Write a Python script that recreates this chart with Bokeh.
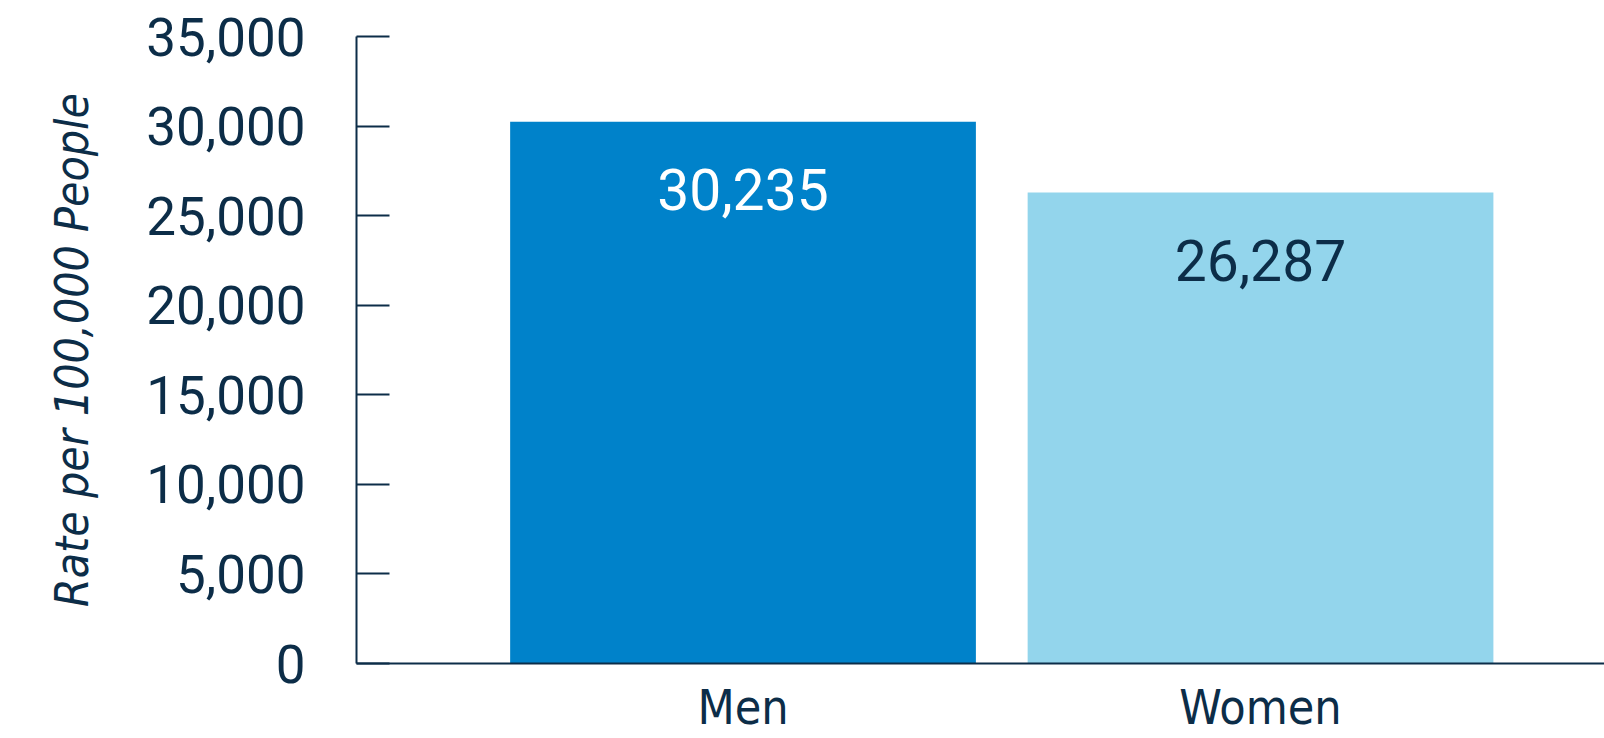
from bokeh.plotting import figure
from bokeh.models import FixedTicker, NumeralTickFormatter, ColumnDataSource, Range1d
from bokeh.core.properties import value
from bokeh.embed import file_html
from bokeh.resources import INLINE

categories = ["Men", "Women"]
rates = [30235, 26287]
bar_colors = ["#0082CA", "#93D5EC"]
label_colors = ["#FFFFFF", "#0C2D48"]
y_ticks = [0, 5000, 10000, 15000, 20000, 25000, 30000, 35000]

NAVY = "#0C2D48"
xs = list(range(1, len(categories) + 1))

src = ColumnDataSource(dict(
    x=xs, top=rates, color=bar_colors, lcolor=label_colors,
    label=[f"{v:,}" for v in rates],
))

p = figure(width=1604, height=738, output_backend="svg", toolbar_location=None,
           x_range=Range1d(0.2531, 0.2531 + 1248 / 517.5), y_range=Range1d(0, 35000),
           min_border_left=356, min_border_right=0, min_border_top=36, min_border_bottom=75)
p.outline_line_color = None
p.xgrid.visible = False
p.ygrid.visible = False
p.background_fill_color = "white"

p.vbar(x="x", top="top", width=0.9, bottom=0, color="color", source=src, line_color=None)
p.text(x="x", y="top", text="label", text_color="lcolor", source=src,
       text_align="center", text_baseline="middle", y_offset=68,
       text_font=value("Roboto"), text_font_size="57px")

# y axis
yax = p.yaxis[0]
yax.ticker = FixedTicker(ticks=y_ticks)
yax.formatter = NumeralTickFormatter(format="0,0")
yax.major_tick_in = 33
yax.major_tick_out = 0
yax.minor_tick_line_color = None
yax.axis_line_color = NAVY
yax.axis_line_width = 2
yax.major_tick_line_color = NAVY
yax.major_tick_line_width = 2
yax.major_label_standoff = 51
yax.major_label_text_font = "Roboto"
yax.major_label_text_font_size = "53px"
yax.major_label_text_color = NAVY
yax.axis_label = "Rate per 100,000 People"
yax.axis_label_text_font = "DejaVu Sans Condensed"
yax.axis_label_text_font_style = "italic"
yax.axis_label_text_font_size = "46px"
yax.axis_label_text_color = NAVY
yax.axis_label_standoff = 44

# x axis
xax = p.xaxis[0]
xax.ticker = FixedTicker(ticks=xs)
xax.major_label_overrides = {x: c for x, c in zip(xs, categories)}
xax.major_tick_line_color = None
xax.minor_tick_line_color = None
xax.axis_line_color = NAVY
xax.axis_line_width = 2
xax.major_label_standoff = 9
xax.major_label_text_font = "DejaVu Sans Condensed"
xax.major_label_text_font_size = "48px"
xax.major_label_text_color = NAVY

open("out.html", "w").write(file_html(p, INLINE))
